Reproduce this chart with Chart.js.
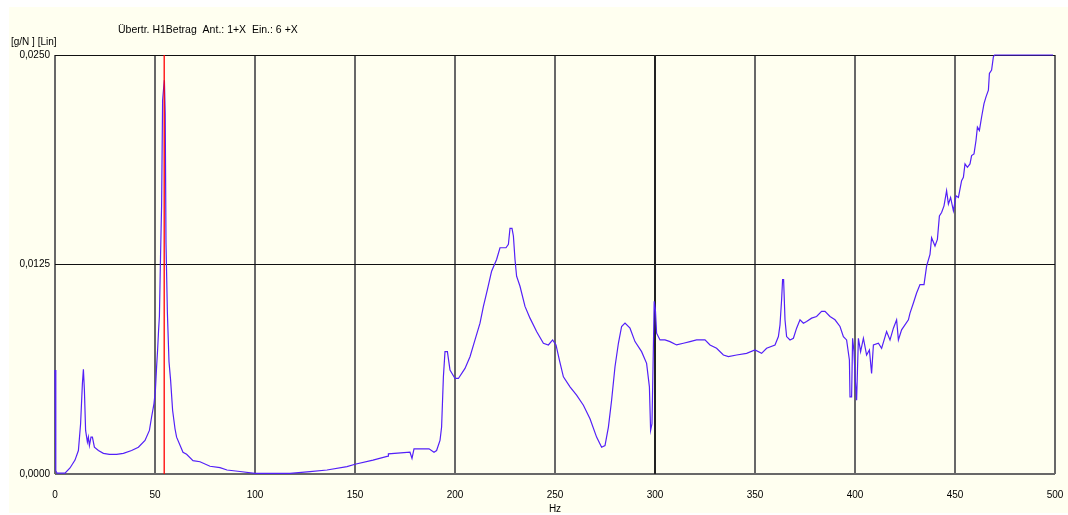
<!DOCTYPE html>
<html>
<head>
<meta charset="utf-8">
<script src="https://cdn.jsdelivr.net/npm/chart.js@4/dist/chart.umd.min.js"></script>
<style>
  html, body { margin: 0; padding: 0; background: #ffffff; }
  canvas { display: block; }
</style>
</head>
<body>
<canvas id="h1Chart" width="1068" height="515"></canvas>
<script>
// Transfer function H1 magnitude
const freqHz = [
  0, 0.4, 1, 5, 7.5, 10, 11.7, 12.8, 13.7, 14.2, 14.7, 15.3, 16.2, 16.7, 17.2, 18, 18.7, 19.7,
  21.7, 24.2, 27.2, 30.8, 34.2, 38.3, 41.7, 45, 47.2, 48.3, 49.5, 50.2, 50.8, 51.3, 51.8, 52.2,
  52.8, 53.3, 53.8, 54.3, 54.7, 55.1, 55.5, 56.2, 57, 57.8, 58.8, 60, 60.8, 64, 65.8, 69, 72.5,
  77.5, 82.5, 86, 92.5, 100, 117.5, 127.5, 136, 146, 150, 159, 166.5, 166.7, 177.5, 178.5, 179.5,
  187, 189.5, 190.8, 192.5, 193.3, 194.2, 195, 196.2, 197.5, 200, 201.7, 205, 207.5, 210, 212.5,
  214.2, 216.2, 218.3, 220.8, 222.5, 225.5, 226.7, 227.5, 228.5, 229.2, 230, 230.8, 232.5, 235,
  237.5, 240.8, 244.2, 246.7, 248.8, 250.5, 252.2, 254.2, 257.5, 260.8, 264.2, 267.5, 270.8,
  273.3, 275, 276.7, 278.3, 280, 281.7, 283.3, 285, 287.5, 290, 293.3, 295.8, 297.2, 297.8,
  298.5, 299.6, 300.2, 300.8, 302.5, 305, 307.5, 310.8, 314.2, 317.5, 320.8, 325, 327.5, 330.8,
  334.2, 336.7, 340.8, 345.8, 350, 353.3, 355.8, 360, 361.7, 362.5, 363.3, 363.8, 364.3, 365,
  365.8, 367.5, 369.2, 370.8, 372.5, 374.2, 375.8, 378.3, 380.8, 383.3, 385, 387.5, 390, 392.5,
  394.2, 395.8, 397.2, 397.5, 398.3, 398.8, 399.5, 400, 400.8, 401.7, 402.8, 404.2, 405.8, 407.2,
  408.3, 409.2, 411.7, 413.3, 415.8, 417.5, 419.2, 420.8, 421.7, 423.3, 426.7, 427.5, 429.2,
  430.8, 432.5, 434.5, 435.8, 437.5, 438.3, 440, 441.2, 442.2, 443.3, 444.5, 445.8, 446.7, 447.8,
  449.2, 450.5, 451.7, 453.3, 454.2, 455, 456.2, 457.5, 458.3, 459.5, 460.5, 461.2, 462.2, 463.3,
  464.5, 465.5, 466.7, 467.2, 468.3, 469.2, 469.8, 499
];
const h1Mag = [
  0.0062, 0.0002, 0.00005, 0.00005, 0.00036, 0.00083, 0.0014, 0.003, 0.0054, 0.00625, 0.005, 0.0026, 0.0019, 0.0022, 0.0017, 0.0022, 0.0022, 0.0016,
  0.0014, 0.00123, 0.00117, 0.00117, 0.00123, 0.0014, 0.0016, 0.002, 0.0026, 0.0034, 0.0042, 0.005, 0.0064, 0.0074, 0.0086, 0.0094,
  0.0132, 0.016, 0.0223, 0.023, 0.0235, 0.0215, 0.0138, 0.0096, 0.0067, 0.0056, 0.0038, 0.0027, 0.0022, 0.0013, 0.00118, 0.0008, 0.00073,
  0.00046, 0.00038, 0.00024, 0.00015, 0.00004, 0.00004, 0.00014, 0.00024, 0.00044, 0.00058, 0.00083, 0.00107, 0.0012, 0.0013, 0.00093, 0.0015,
  0.0015, 0.0013, 0.0014, 0.002, 0.0028, 0.0058, 0.0073, 0.0073, 0.0062, 0.0057, 0.0057, 0.0063, 0.007, 0.008, 0.009,
  0.01, 0.011, 0.0121, 0.0128, 0.0135, 0.0135, 0.0137, 0.01466, 0.01466, 0.0142, 0.0128, 0.0118, 0.0112, 0.01,
  0.0093, 0.0085, 0.0078, 0.0077, 0.008, 0.0077, 0.0068, 0.0058, 0.0052, 0.0047, 0.0041, 0.0033, 0.0022,
  0.0016, 0.0017, 0.0028, 0.0044, 0.0064, 0.0078, 0.0088, 0.009, 0.0087, 0.0079, 0.0073, 0.0066, 0.0052, 0.0026,
  0.003, 0.0103, 0.0098, 0.0084, 0.008, 0.008, 0.0079, 0.0077, 0.0078, 0.0079, 0.008, 0.008, 0.0077, 0.0075,
  0.0071, 0.007, 0.0071, 0.0072, 0.0074, 0.0072, 0.0075, 0.0077, 0.0082, 0.0089, 0.0104, 0.0116, 0.0116, 0.0092,
  0.0082, 0.008, 0.0081, 0.0087, 0.0092, 0.009, 0.0091, 0.0093, 0.0094, 0.0097, 0.0097, 0.0094, 0.0092, 0.0088,
  0.0082, 0.008, 0.0068, 0.0046, 0.0046, 0.0081, 0.0073, 0.0059, 0.0044, 0.0081, 0.0073, 0.0081, 0.0071, 0.0074,
  0.006, 0.0077, 0.0078, 0.0075, 0.0085, 0.008, 0.0087, 0.0092, 0.008, 0.0086, 0.0092, 0.0096, 0.0102,
  0.0108, 0.0113, 0.0113, 0.0124, 0.0131, 0.0141, 0.0136, 0.014, 0.0154, 0.0156, 0.016, 0.0169, 0.0161, 0.0165,
  0.0157, 0.0166, 0.0165, 0.0175, 0.0177, 0.0185, 0.0183, 0.0185, 0.019, 0.0191, 0.0199, 0.0207, 0.0205, 0.0213,
  0.0221, 0.0225, 0.0229, 0.0239, 0.0241, 0.0249, 0.025, 0.025
];

// cursors: red marker and the dark marker line
const redCursorHz = [54.6];
const darkCursorHz = [300];

const yTicks = [0, 0.0125, 0.025];
const xTicks = [0, 50, 100, 150, 200, 250, 300, 350, 400, 450, 500];

const chartTitle = 'Übertr. H1Betrag  Ant.: 1+X  Ein.: 6 +X';
const yUnit = '[g/N ] [Lin]';
const xUnit = 'Hz';

const points = freqHz.map((f, i) => ({ x: f, y: h1Mag[i] }));
const cursorLine = hz => [{ x: hz, y: 0 }, { x: hz, y: 0.025 }];

// background + free text
const decoPlugin = {
    id: 'deco',
    beforeDraw(chart) {
        const ctx = chart.ctx;
        ctx.save();
        ctx.fillStyle = '#ffffff';
        ctx.fillRect(0, 0, chart.width, chart.height);
        ctx.fillStyle = '#fffff0';
        ctx.fillRect(9, 7, chart.width - 9, chart.height - 9);
        ctx.restore();
    },
    afterDraw(chart) {
        const ctx = chart.ctx;
        ctx.save();
        ctx.fillStyle = '#000';
        ctx.font = '10.5px "Liberation Sans", Arial, sans-serif';
        ctx.textBaseline = 'middle';
        ctx.textAlign = 'left';
        ctx.fillText(chartTitle, 118, 30);
        ctx.font = '10px "Liberation Sans", Arial, sans-serif';
        ctx.fillText(yUnit, 11, 42);
        ctx.textAlign = 'center';
        ctx.fillText(xUnit, (chart.chartArea.left + chart.chartArea.right) / 2, 509);
        ctx.restore();
    }
};

new Chart(document.getElementById('h1Chart'), {
    type: 'line',
    data: {
        datasets: [
            {
                data: points,
                borderColor: '#5320f8',
                borderWidth: 1.2,
                pointRadius: 0,
                tension: 0,
                clip: 2,
                order: 2
            },
            {
                data: cursorLine(redCursorHz[0]),
                borderColor: '#ff0000',
                borderWidth: 1.3,
                pointRadius: 0,
                order: 1
            },
            {
                data: cursorLine(darkCursorHz[0]),
                borderColor: '#222222',
                borderWidth: 2,
                pointRadius: 0,
                order: 3
            }
        ]
    },
    options: {
        responsive: false,
        animation: false,
        layout: { padding: { left: 0, top: 55, right: 13, bottom: 0 } },
        plugins: {
            legend: { display: false },
            tooltip: { enabled: false }
        },
        scales: {
            x: {
                type: 'linear',
                min: 0,
                max: 500,
                afterBuildTicks: s => { s.ticks = xTicks.map(v => ({ value: v })); },
                afterFit: s => { s.height = 41; s.paddingLeft = 0; s.paddingRight = 0; },
                border: { display: false },
                grid: {
                    drawTicks: false,
                    color: '#686868',
                    lineWidth: 2
                },
                ticks: {
                    padding: 15,
                    maxRotation: 0,
                    color: '#000',
                    font: { family: '"Liberation Sans", Arial, sans-serif', size: 10 }
                }
            },
            y: {
                min: 0,
                max: 0.025,
                afterBuildTicks: s => { s.ticks = yTicks.map(v => ({ value: v })); },
                afterFit: s => { s.width = 55; s.paddingTop = 0; s.paddingBottom = 0; },
                border: { display: false },
                grid: {
                    drawTicks: false,
                    color: ctx => ctx.tick && ctx.tick.value === 0 ? '#686868' : '#111111',
                    lineWidth: ctx => ctx.tick && ctx.tick.value === 0 ? 2 : 1
                },
                ticks: {
                    padding: 5,
                    color: '#000',
                    font: { family: '"Liberation Sans", Arial, sans-serif', size: 10 },
                    callback: v => v.toFixed(4).replace('.', ',')
                }
            }
        }
    },
    plugins: [decoPlugin]
});
</script>
</body>
</html>
